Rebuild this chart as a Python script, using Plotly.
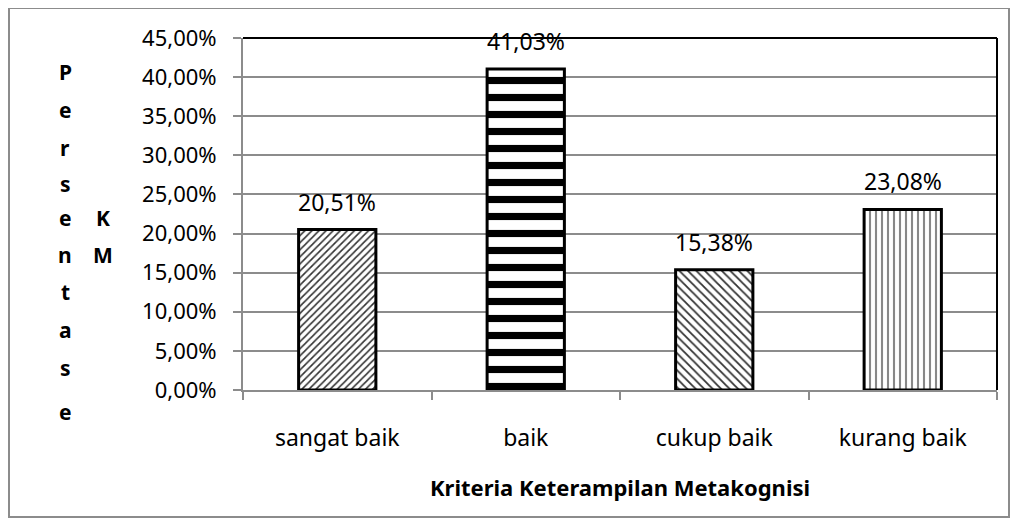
import plotly.graph_objects as go

categories = ["sangat baik", "baik", "cukup baik", "kurang baik"]
values = [0.2051, 0.4103, 0.1538, 0.2308]
y_title_letters = ["P", "e", "r", "s", "e", "n", "t", "a", "s", "e"]
y_title_second = ["K", "M"]
x_title = "Kriteria Keterampilan Metakognisi"

patterns = [
    dict(shape="/", size=5, solidity=0.32, fgcolor="#333333", bgcolor="white", fillmode="replace"),
    dict(shape="-", size=17, solidity=0.42, fgcolor="black", bgcolor="white", fillmode="replace"),
    dict(shape="\\", size=6, solidity=0.3, fgcolor="#333333", bgcolor="white", fillmode="replace"),
    dict(shape="|", size=6, solidity=0.35, fgcolor="#888888", bgcolor="white", fillmode="replace"),
]

FONT = "Noto Sans"
# page body has an 8px margin; plot area on screen is x 243..997, y 38..390
OFF = 8
PL, PR, PT, PB = 243 - OFF, 997 - OFF, 38 - OFF, 390 - OFF
W, H = 1004, 512
plot_w = PR - PL
plot_h = PB - PT


def px(xs):
    return (xs - OFF - PL) / plot_w


def py(ys):
    return (PB - (ys - OFF)) / plot_h


fig = go.Figure()
for c, v, p in zip(categories, values, patterns):
    fig.add_trace(go.Bar(
        x=[c], y=[v], marker=dict(color="white", pattern=p, line=dict(color="black", width=3)),
        width=0.41, showlegend=False, hoverinfo="skip",
    ))
    fig.add_annotation(x=c, y=v, text=f"{v*100:.2f}%".replace(".", ","), showarrow=False,
                       yanchor="middle", yshift=28, font=dict(family=FONT, size=23, color="black"))

ys_px = [72, 110, 148, 184, 218, 255, 292, 330, 368, 412]
for L, yp in zip(y_title_letters, ys_px):
    fig.add_annotation(xref="paper", yref="paper", x=px(65), y=py(yp),
                       text=f"<b>{L}</b>", showarrow=False, xanchor="center", yanchor="middle",
                       font=dict(family=FONT, size=21, color="black"))
for L, yp in zip(y_title_second, [218, 255]):
    fig.add_annotation(xref="paper", yref="paper", x=px(103), y=py(yp),
                       text=f"<b>{L}</b>", showarrow=False, xanchor="center", yanchor="middle",
                       font=dict(family=FONT, size=21, color="black"))

fig.add_annotation(xref="paper", yref="paper", x=0.5, y=py(487), text=f"<b>{x_title}</b>",
                   showarrow=False, xanchor="center", yanchor="middle",
                   font=dict(family=FONT, size=22, color="black"))

shapes = [
    dict(type="rect", xref="paper", yref="paper", x0=px(9), x1=px(1009),
         y0=py(517), y1=py(8), line=dict(color="#8c8c8c", width=2), layer="below"),
    dict(type="line", xref="paper", yref="paper", x0=0, x1=1, y0=1, y1=1, line=dict(color="black", width=2)),
    dict(type="line", xref="paper", yref="paper", x0=1, x1=1, y0=0, y1=1, line=dict(color="black", width=2)),
]

fig.update_layout(
    width=W, height=H,
    margin=dict(l=PL, r=W - PR, t=PT, b=H - PB),
    paper_bgcolor="white", plot_bgcolor="white",
    separators=",.",
    bargap=0.59,
    shapes=shapes,
    font=dict(family=FONT, color="black"),
    xaxis=dict(type="category", showline=True, linecolor="#8c8c8c", linewidth=2,
               ticks="outside", ticklen=8, tickcolor="#8c8c8c", tickwidth=2, tickson="boundaries",
               tickfont=dict(family=FONT, size=23, color="black"), ticklabelstandoff=26,
               showgrid=False, zeroline=False),
    yaxis=dict(range=[0, 0.45], dtick=0.05, tickformat=".2%", showline=True, linecolor="#8c8c8c",
               linewidth=2, ticks="outside", ticklen=8, tickcolor="#8c8c8c", tickwidth=2,
               showgrid=True, gridcolor="#8c8c8c", gridwidth=1.5, zeroline=False,
               tickfont=dict(family=FONT, size=22, color="black"), ticklabelstandoff=12),
)

fig.write_html("out.html")
